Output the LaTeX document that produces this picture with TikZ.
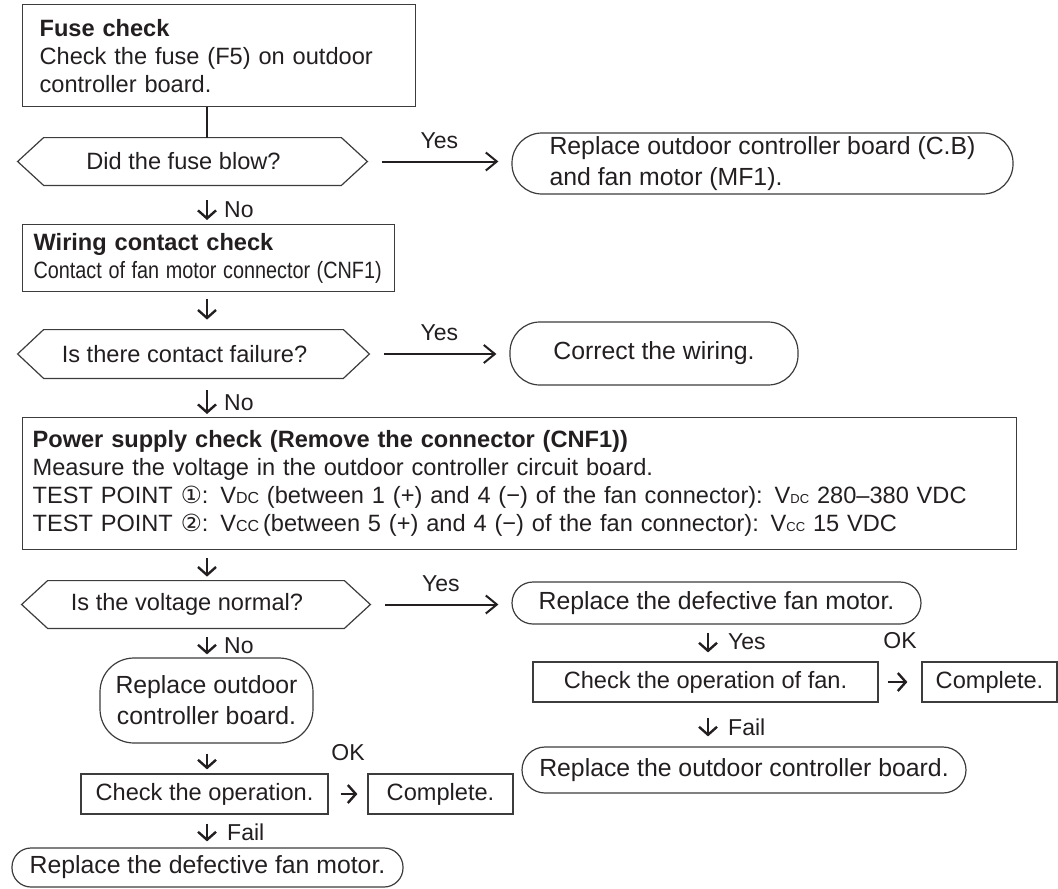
\documentclass[tikz,border=0pt]{standalone}
\usepackage{fontspec}
\setmainfont{Liberation Sans}
\newfontfamily\circfont{DejaVu Sans}
\usepackage{graphicx}
\usepackage{xcolor}
\usetikzlibrary{calc}
\usetikzlibrary{arrows.meta}

\definecolor{ink}{HTML}{231F20}
\definecolor{edge}{HTML}{3C3C3C}
\newcommand{\lowtag}[2]{{\fontsize{#1}{#1}\selectfont #2}}

\begin{document}
\begin{tikzpicture}[x=0.5pt,y=-0.5pt]
% 1 unit = 1 px of the page
    \def\COLX{207}
    \def\COLR{708}
    \def\TIP{13pt} %depth of the hexagon points

    \tikzset{
      chk/.style={draw=edge, line width=0.6pt, text=ink, inner sep=0pt,
        font=\fontsize{11.8}{14}\selectfont},
      note/.style={chk, align=left, anchor=north west},
      act/.style={chk, align=center, font=\fontsize{12.4}{15.5}\selectfont},
      decide/.style={inner sep=0pt, text=ink, font=\fontsize{11.8}{14}\selectfont,
        execute at begin node={\hspace*{-9pt}},
        append after command={\pgfextra{\draw[draw=edge, line width=0.6pt]
          (\tikzlastnode.west) -- ([xshift=\TIP]\tikzlastnode.north west)
          -- ([xshift=-\TIP]\tikzlastnode.north east) -- (\tikzlastnode.east)
          -- ([xshift=-\TIP]\tikzlastnode.south east)
          -- ([xshift=\TIP]\tikzlastnode.south west) -- cycle;}}},
      lbl/.style={inner sep=0pt, text=ink, font=\fontsize{11.5}{13}\selectfont},
      link/.style={draw=ink, line width=1pt},
      down/.style={link, line width=1.2pt, -{Straight Barb[length=4pt,width=9pt]}},
      yes/.style={link, -{Straight Barb[length=5.5pt,width=9pt]},
        shorten <=7.5pt, shorten >=6.5pt},
    }

    \coordinate (colx) at (\COLX,0);
    \coordinate (colr) at (\COLR,0);

    % FUSE CHECK
    \node[note, text width=179.5pt, inner xsep=8.5pt, minimum height=51pt]
        (fuse) at (22,4) {\textbf{Fuse check}\\Check the fuse (F5) on outdoor\\controller board.};
    \node[decide, minimum width=174.5pt, minimum height=23.5pt]
        (hex1) at (192.5,161.5) {Did the fuse blow?};
    \node[act, minimum width=250.5pt, minimum height=30.5pt, rounded corners=15pt, align=left]
        (rb1) at (762.5,163.5) {Replace outdoor controller board (C.B)\\and fan motor (MF1).};

    % WIRING CONTACT CHECK
    \node[note, text width=175pt, inner xsep=5.5pt, minimum height=33.5pt]
        (wire) at (22,224) {\textbf{Wiring contact check}\\\scalebox{0.84}[1]{Contact of fan motor connector (CNF1)}};
    \node[decide, minimum width=175.5pt, minimum height=24pt]
        (hex2) at (193.5,354) {Is there contact failure?};
    \node[act, minimum width=144pt, minimum height=31.5pt, rounded corners=15pt]
        (rb2) at (654,353.5) {Correct the wiring.};

    % POWER SUPPLY CHECK
    \node[note, text width=487pt, inner xsep=5pt, minimum height=66pt]
        (power) at (22,417) {\textbf{Power supply check (Remove the connector (CNF1))}\\
        Measure the voltage in the outdoor controller circuit board.\\
        TEST POINT {\circfont ①}: V\lowtag{8}{DC} (between 1 (+) and 4 (−) of the fan connector): V\lowtag{6.5}{DC} 280–380 VDC\\
        TEST POINT {\circfont ②}: V\lowtag{8}{CC}\,(between 5 (+) and 4 (−) of the fan connector): V\lowtag{6.5}{CC} 15 VDC};
    \node[decide, minimum width=174pt, minimum height=23.5pt]
        (hex3) at (196,604.5) {Is the voltage normal?};
    \node[act, minimum width=204.5pt, minimum height=21pt, rounded corners=10.5pt]
        (rb3) at (716.5,603) {Replace the defective fan motor.};

    % RIGHT BRANCH
    \node[chk, minimum width=172.5pt, minimum height=20pt]
        (chkr) at (705.5,682) {Check the operation of fan.};
    \node[chk, minimum width=67.5pt, minimum height=20pt]
        (cmpr) at (989.5,682) {Complete.};
    \node[act, minimum width=222pt, minimum height=23pt, rounded corners=11.5pt]
        (rbr) at (744,770) {Replace the outdoor controller board.};

    % LEFT BRANCH
    \node[act, minimum width=106.5pt, minimum height=42.5pt, rounded corners=17pt]
        (rbl) at (206.5,700.5) {Replace outdoor\\controller board.};
    \node[chk, minimum width=123.5pt, minimum height=20pt]
        (chkl) at (204.5,794) {Check the operation.};
    \node[chk, minimum width=72.5pt, minimum height=20pt]
        (cmpl) at (440.5,794) {Complete.};
    \node[act, minimum width=195.5pt, minimum height=19.5pt, rounded corners=9.5pt]
        (rbb) at (207.5,867.5) {Replace the defective fan motor.};

    % YES ARROWS
    \draw[yes] (hex1.east) -- (hex1.east -| rb1.west) node[lbl, midway, above=6pt] {Yes};
    \draw[yes] (hex2.east) -- (hex2.east -| rb2.west) node[lbl, midway, above=6pt] {Yes};
    \draw[yes] (hex3.east) -- (hex3.east -| rb3.west) node[lbl, midway, above=6pt] {Yes};

    % MAIN COLUMN
    \draw[link] (fuse.south -| colx) -- (hex1.north -| colx);
    \draw[down, shorten <=7.5pt, shorten >=2pt] (hex1.south -| colx) -- (wire.north -| colx)
        node[lbl, pos=0.64, right=8pt] {No};
    \draw[down, shorten <=3.5pt, shorten >=5pt] (wire.south -| colx) -- (hex2.north -| colx);
    \draw[down, shorten <=6pt, shorten >=1.5pt] (hex2.south -| colx) -- (power.north -| colx)
        node[lbl, pos=0.62, right=8pt] {No};
    \draw[down, shorten <=4pt, shorten >=2pt] (power.south -| colx) -- (hex3.north -| colx);
    \draw[down, shorten <=4.5pt, shorten >=1.5pt] (hex3.south -| colx) -- (rbl.north -| colx)
        node[lbl, pos=0.6, right=8pt] {No};
    \draw[down, shorten <=5pt, shorten >=2pt] (rbl.south -| colx) -- (chkl.north -| colx);
    \draw[down, shorten <=4.5pt, shorten >=3pt] (chkl.south -| colx) -- (rbb.north -| colx)
        node[lbl, pos=0.53, right=9.5pt] {Fail};
    \draw[down, shorten <=6pt, shorten >=5pt] (chkl.east) -- (cmpl.west)
        node[lbl, midway, above=16pt] {OK};

    % RIGHT COLUMN
    \draw[down, shorten <=4pt, shorten >=4.5pt] (rb3.south -| colr) -- (chkr.north -| colr)
        node[lbl, pos=0.47, right=9.5pt] {Yes};
    \draw[down, shorten <=7.5pt, shorten >=5pt] (chkr.south -| colr) -- (rbr.north -| colr)
        node[lbl, pos=0.56, right=9.5pt] {Fail};
    \draw[down, shorten <=4.5pt, shorten >=7pt] (chkr.east) -- (cmpr.west)
        node[lbl, midway, above=16pt] {OK};

    \useasboundingbox (0,0) rectangle (1058,888);
\end{tikzpicture}
\end{document}
